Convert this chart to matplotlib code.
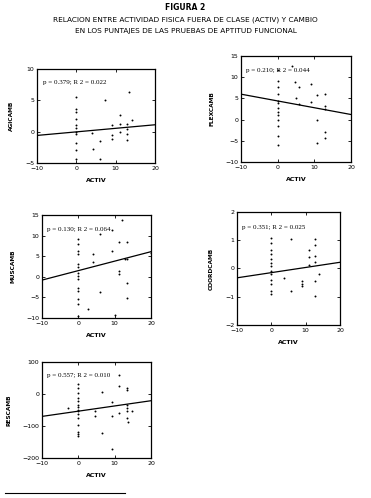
import matplotlib
matplotlib.use("Agg")
import matplotlib.pyplot as plt
from matplotlib.lines import Line2D

# --- values -----------------------------------------------------------------
TITLE = ["FIGURA 2",
         "RELACION ENTRE ACTIVIDAD FISICA FUERA DE CLASE (ACTIV) Y CAMBIO",
         "EN LOS PUNTAJES DE LAS PRUEBAS DE APTITUD FUNCIONAL"]

agi_x = [0, 0, 0, 0, 0, 0, 0, 0, 0, 0, 0,
         7.2, 4.1, 6.1, 4.3, 6.1, 9.1, 9.1, 9.1, 11.1, 11.1, 11.1,
         13.0, 13.0, 13.0, 13.0, 13.3, 14.1]
agi_y = [5.6, 3.6, 3.1, 2.1, 1.1, 0.6, 0.0, -0.3, -1.8, -3.0, -4.3,
         5.1, -0.2, -1.5, -2.8, -4.3, 1.0, -0.5, -1.2, 2.7, 1.2, 0.0,
         1.2, 0.4, -0.3, -1.4, 6.3, 1.9]

flex_x = [0, 0, 0, 0, 0, 0, 0, 0, 0, 0, 0, 0, 0,
          3.8, 4.7, 5.8, 4.9, 9.0, 9.0, 5.8, 10.8, 10.8,
          12.9, 12.9, 12.9, 12.9, 12.9, 10.8]
flex_y = [11.8, 9.2, 7.6, 6.0, 4.4, 3.8, 2.8, 1.8, 1.0, 0.0, -1.4, -3.8, -6.0,
          12.6, 8.8, 7.8, 5.0, 8.4, 4.2, 3.6, 5.8, 0.0,
          6.0, 3.2, 2.6, -3.0, -4.4, -5.6]

mus_x = [0, 0, 0, 0, 0, 0, 0, 0, 0, 0, 0, 0, 0, 0,
         2.7, 3.9, 3.9, 6.0, 6.0, 9.2, 9.2, 12.0, 11.3, 11.3, 11.3,
         13.4, 13.4, 13.4, 10.1, 13.5, 12.8, 20.0]
mus_y = [9.1, 7.9, 6.3, 5.5, 3.2, 2.3, 1.0, 0.2, -0.6, -2.6, -3.4, -5.4, -6.6, -9.4,
         -7.8, 5.5, 3.5, 10.3, -3.6, 11.4, 6.3, 13.8, 8.5, 1.5, 0.6,
         8.5, -1.4, -5.2, -9.2, 4.4, 4.2, 5.8]

coord_x = [0, 0, 0, 0, 0, 0, 0, 0, 0, 0, 0, 0, 0,
           5.8, 3.8, 5.8, 8.9, 8.9, 8.9, 11.0, 11.0, 11.0,
           12.7, 12.7, 12.7, 12.7, 12.7, 12.7, 13.9]
coord_y = [1.08, 0.9, 0.67, 0.52, 0.35, 0.2, 0.08, -0.1, -0.19, -0.39, -0.54, -0.8, -0.92,
           1.06, -0.33, -0.8, -0.45, -0.54, -0.62, 0.64, 0.41, 0.12,
           1.06, 0.82, 0.44, 0.24, -0.45, -0.98, -0.21]

res_x = [0, 0, 0, 0, 0, 0, 0, 0, 0, 0, 0, 0, 0, 0, 0,
         -2.8, 4.6, 4.6, 6.4, 6.4, 9.2, 9.2, 9.2, 11.3, 11.3, 11.3,
         13.4, 13.4, 13.4, 13.4, 13.4, 13.5, 13.8, 14.7]
res_y = [31, 19, 3, -12, -23, -33, -42, -49, -54, -62, -75, -96, -119, -125, -132,
         -44, -54, -70, 5, -123, -25, -70, -172, 60, 24, -59,
         19, 13, -33, -44, -54, -75, -87, -54]

# fitted line, value at ACTIV = -10 and ACTIV = 20
fit_agi = [-0.6, 1.1]
fit_flex = [6.0, 1.2]
fit_mus = [-0.8, 6.1]
fit_coord = [-0.33, 0.22]
fit_res = [-70, -21]
fit_x = [-10, 20]

stats = ["p = 0.379; R 2 = 0.022", "p = 0.210; R 2 = 0.044",
         "p = 0.130; R 2 = 0.064", "p = 0.351; R 2 = 0.025",
         "p = 0.557; R 2 = 0.010"]
ylabels = ["AGICAMB", "FLEXCAMB", "MUSCAMB", "COORDCAMB", "RESCAMB"]
yticks = [[-5, 0, 5, 10], [-10, -5, 0, 5, 10, 15], [-10, -5, 0, 5, 10, 15],
          [-2, -1, 0, 1, 2], [-200, -100, 0, 100]]
xticks = [-10, 0, 10, 20]

W, H = 371, 498
# axes boxes in pixels: left, right, top, bottom
boxes = [(37, 155, 69, 163), (241, 351, 56, 162), (42, 151, 215, 318),
         (237, 340, 212, 325), (42, 151, 362, 458)]

fig = plt.figure(figsize=(W / 100, H / 100), dpi=100)
fig.patch.set_facecolor("white")

fig.text(0.5, 1 - 8 / H, TITLE[0], ha="center", va="center",
         fontsize=5.5, fontweight="bold")
fig.text(0.5, 1 - 20 / H, TITLE[1], ha="center", va="center", fontsize=5.3)
fig.text(0.5, 1 - 31 / H, TITLE[2], ha="center", va="center", fontsize=5.3)

panels = [(agi_x, agi_y, fit_agi), (flex_x, flex_y, fit_flex),
          (mus_x, mus_y, fit_mus), (coord_x, coord_y, fit_coord),
          (res_x, res_y, fit_res)]

for k, ((xs, ys, fit), (l, r, t, b)) in enumerate(zip(panels, boxes)):
    ax = fig.add_axes([l / W, 1 - b / H, (r - l) / W, (b - t) / H])
    ax.plot(xs, ys, "o", ms=1.4, color="black", mec="none")
    ax.plot(fit_x, fit, "-", lw=0.9, color="black")
    ax.set_xlim(-10, 20)
    ax.set_ylim(yticks[k][0], yticks[k][-1])
    ax.set_xticks(xticks)
    ax.set_yticks(yticks[k])
    ax.tick_params(direction="in", length=2, width=0.6, labelsize=4.5,
                   top=True, right=True, pad=2)
    for s in ax.spines.values():
        s.set_linewidth(0.9)
    ax.set_xlabel("ACTIV", fontsize=4.5, fontweight="bold", labelpad=5)
    ax.set_ylabel(ylabels[k], fontsize=4.2, fontweight="bold", labelpad=8)
    ax.text(0.05, 0.86, stats[k], transform=ax.transAxes, fontsize=5,
            family="Liberation Serif", va="center")

fig.add_artist(Line2D([5 / W, 125 / W], [1 - 493 / H] * 2, color="black", lw=0.8))

fig.savefig("out.png", dpi=100)
